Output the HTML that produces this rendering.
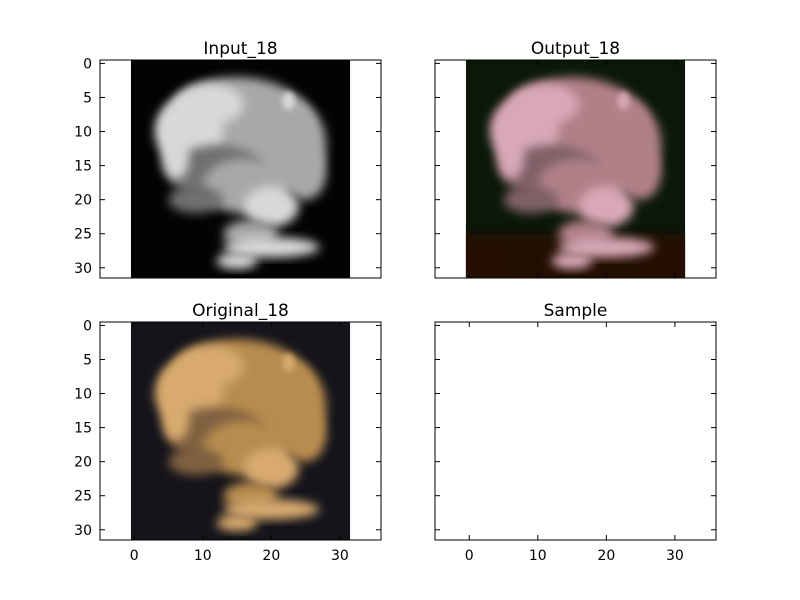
<!DOCTYPE html>
<html><head><meta charset="utf-8">
<style>
body{margin:0;background:#fff;}
svg{display:block;font-family:"DejaVu Sans","Liberation Sans",sans-serif;}
</style></head>
<body>
<svg id="fig" width="800" height="600" viewBox="0 0 800 600">
<defs>
<filter id="blur" x="-30%" y="-30%" width="160%" height="160%"><feGaussianBlur stdDeviation="5"/></filter>
<filter id="blur2" x="-30%" y="-30%" width="160%" height="160%"><feGaussianBlur stdDeviation="3"/></filter>
</defs>
</svg>
<script>
const xTicks=[0,10,20,30];
const yTicks=[0,5,10,15,20,25,30];
const xLim=[-5,36];
const yLim=[-0.5,31.5];
const imgExtent=[-0.5,31.5];
const titles=["Input_18","Output_18","Original_18","Sample"];
const bgColors=["#030303","#0b1808","#15141b",null];
const frogColors=["#a8a8a8","#b08088","#b88c50",null];
const darkColors=["#707070","#806068","#806040",null];
const highlightColors=["#d8d8d8","#d8a8b8","#d8aa70",null];
const panels=[{x:100,y:60},{x:435,y:60},{x:100,y:322},{x:435,y:322}];
const W=281,H=218;
const NS="http://www.w3.org/2000/svg";
const svg=document.getElementById('fig');
function el(t,a,p){const e=document.createElementNS(NS,t);for(const k in a)e.setAttribute(k,a[k]);(p||svg).appendChild(e);return e;}
panels.forEach((p,i)=>{
  const sx=v=>p.x+(v-xLim[0])/(xLim[1]-xLim[0])*W;
  const sy=v=>p.y+(v-yLim[0])/(yLim[1]-yLim[0])*H;
  const ux=W/(xLim[1]-xLim[0]),uy=H/(yLim[1]-yLim[0]);
  const g=el('g',{});
  
  
  if(bgColors[i]){
    const ix=sx(imgExtent[0]),iy=sy(imgExtent[0]),iw=sx(imgExtent[1])-ix,ih=sy(imgExtent[1])-iy;
    const cl=el('clipPath',{id:'c'+i},g);el('rect',{x:ix,y:iy,width:iw,height:ih},cl);
    const img=el('g',{'clip-path':'url(#c'+i+')'},g);
    
    
    el('rect',{x:ix,y:iy,width:iw,height:ih,fill:bgColors[i]},img);
    if(i===1){el('rect',{x:ix-20,y:sy(25),width:iw+40,height:60,fill:'#2a0c04',opacity:0.8,filter:'url(#blur)'},img);}
    const fc=frogColors[i],hc=highlightColors[i],dc=darkColors[i];
    const blobs=[
      [15,9,11,7,fc],[22,12,6,7,fc],[8,10,5,5,hc],[11,6,5,3,hc],
      [12,16,7,4,dc],[16,18,6,4,fc],[20,21,4,3,hc],[9,20,4,2,dc],
      [17,25,4,2,fc],[20,27,7,1.5,hc],[15,29,3,1.2,hc],[25,16,3,4,fc],[6,14,2,3,hc]];
    blobs.forEach(b=>{el('ellipse',{cx:sx(b[0]),cy:sy(b[1]),rx:b[2]*ux,ry:b[3]*uy,fill:b[4],filter:'url(#blur)'},img);});
    el('ellipse',{cx:sx(22.5),cy:sy(5.5),rx:6,ry:9,fill:hc,filter:'url(#blur2)'},img);
  }
  el('rect',{x:p.x,y:p.y,width:W,height:H,fill:'none',stroke:'#000','stroke-width':1});
  const t=el('text',{x:p.x+W/2,y:p.y-6,'text-anchor':'middle','font-size':17});t.textContent=titles[i];
  
  xTicks.forEach(v=>{const x=sx(v);el('line',{x1:x,x2:x,y1:p.y,y2:p.y+5,stroke:'#000'});el('line',{x1:x,x2:x,y1:p.y+H,y2:p.y+H-5,stroke:'#000'});
    if(i>=2){const l=el('text',{x:x,y:p.y+H+20,'text-anchor':'middle','font-size':14});l.textContent=v;}});
  yTicks.forEach(v=>{const y=sy(v);el('line',{x1:p.x,x2:p.x+5,y1:y,y2:y,stroke:'#000'});el('line',{x1:p.x+W,x2:p.x+W-5,y1:y,y2:y,stroke:'#000'});
    if(i%2===0){const l=el('text',{x:p.x-8,y:y+5,'text-anchor':'end','font-size':14});l.textContent=v;}});
});
</script>
</body></html>
